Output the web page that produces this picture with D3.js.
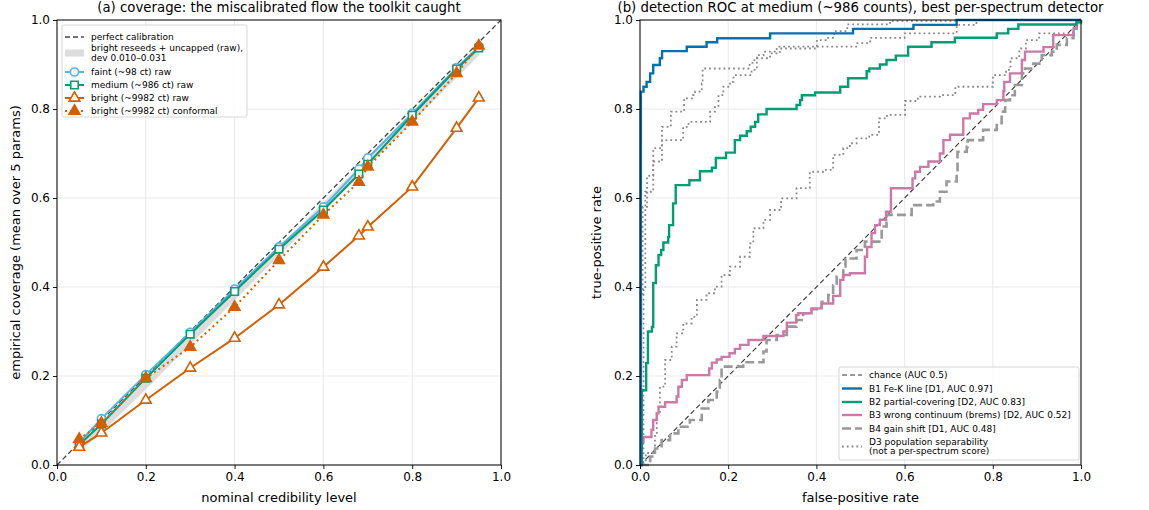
<!DOCTYPE html>
<html><head><meta charset="utf-8">
<script src="https://cdn.jsdelivr.net/npm/d3@7"></script>
<style>body{margin:0;background:#fff} svg{font-family:"DejaVu Sans",sans-serif}</style>
</head><body><svg id="c" width="1149" height="510"></svg>
<script>
// ---------- Panel (a) data ----------
const nominal   = [0.05, 0.10, 0.20, 0.30, 0.40, 0.50, 0.60, 0.68, 0.70, 0.80, 0.90, 0.95];
const faintRaw  = [0.050, 0.104, 0.203, 0.298, 0.395, 0.490, 0.580, 0.665, 0.690, 0.790, 0.893, 0.940];
const mediumRaw = [0.045, 0.092, 0.195, 0.294, 0.390, 0.485, 0.573, 0.654, 0.676, 0.786, 0.890, 0.937];
const brightRaw = [0.040, 0.072, 0.146, 0.218, 0.285, 0.360, 0.445, 0.515, 0.535, 0.625, 0.757, 0.825];
const brightConf= [0.058, 0.094, 0.195, 0.265, 0.355, 0.460, 0.562, 0.636, 0.670, 0.771, 0.880, 0.942];
const bandLo    = [0.030, 0.072, 0.170, 0.270, 0.370, 0.470, 0.569, 0.650, 0.670, 0.770, 0.870, 0.920];
const bandHi    = [0.040, 0.090, 0.190, 0.290, 0.390, 0.490, 0.590, 0.670, 0.690, 0.790, 0.890, 0.940];
const ticksA    = [0, 0.2, 0.4, 0.6, 0.8, 1.0];

// ---------- Panel (b) data (ROC step corners: [fpr, tpr]) ----------
const rocB1 = [[0,0],[0.002,0.839],[0.008,0.85],[0.015,0.861],[0.023,0.88],[0.03,0.899],[0.045,0.914],[0.05,0.93],[0.106,0.94],[0.151,0.95],[0.175,0.959],[0.295,0.97],[0.483,0.98],[0.62,0.989],[0.718,1.0],[1,1]];
const rocB2 = [[0,0],[0.004,0.168],[0.014,0.229],[0.018,0.3],[0.027,0.31],[0.03,0.409],[0.036,0.449],[0.042,0.472],[0.048,0.483],[0.053,0.5],[0.064,0.512],[0.066,0.539],[0.075,0.588],[0.081,0.629],[0.112,0.64],[0.136,0.66],[0.163,0.668],[0.172,0.69],[0.195,0.702],[0.215,0.73],[0.227,0.74],[0.242,0.75],[0.251,0.76],[0.261,0.771],[0.268,0.788],[0.287,0.8],[0.355,0.809],[0.363,0.82],[0.367,0.831],[0.397,0.837],[0.454,0.85],[0.472,0.869],[0.514,0.885],[0.52,0.891],[0.544,0.9],[0.559,0.91],[0.58,0.92],[0.608,0.94],[0.661,0.95],[0.714,0.96],[0.809,0.97],[0.835,0.98],[0.858,0.99],[0.99,0.996],[1,1]];
const rocB3 = [[0,0],[0.004,0.052],[0.008,0.063],[0.026,0.079],[0.03,0.101],[0.038,0.116],[0.042,0.131],[0.057,0.141],[0.083,0.154],[0.087,0.176],[0.095,0.191],[0.106,0.202],[0.157,0.217],[0.163,0.23],[0.174,0.237],[0.185,0.243],[0.203,0.251],[0.215,0.261],[0.227,0.27],[0.246,0.281],[0.28,0.29],[0.325,0.3],[0.333,0.32],[0.354,0.337],[0.359,0.341],[0.389,0.352],[0.412,0.363],[0.438,0.38],[0.454,0.416],[0.461,0.427],[0.476,0.431],[0.51,0.468],[0.515,0.49],[0.525,0.521],[0.533,0.539],[0.544,0.551],[0.558,0.569],[0.569,0.622],[0.618,0.644],[0.624,0.659],[0.635,0.67],[0.654,0.682],[0.68,0.7],[0.688,0.73],[0.703,0.742],[0.733,0.779],[0.748,0.79],[0.767,0.798],[0.778,0.811],[0.809,0.82],[0.824,0.84],[0.826,0.861],[0.839,0.88],[0.866,0.91],[0.873,0.929],[0.915,0.939],[0.937,0.966],[0.983,0.981],[0.99,0.993],[1,1]];
const rocB4 = [[0,0],[0.023,0.019],[0.034,0.037],[0.049,0.056],[0.068,0.071],[0.087,0.086],[0.113,0.101],[0.14,0.127],[0.155,0.146],[0.174,0.165],[0.181,0.191],[0.185,0.221],[0.234,0.231],[0.28,0.255],[0.287,0.281],[0.31,0.292],[0.333,0.311],[0.355,0.326],[0.37,0.341],[0.389,0.35],[0.412,0.367],[0.427,0.382],[0.438,0.404],[0.446,0.423],[0.461,0.446],[0.466,0.464],[0.491,0.483],[0.51,0.502],[0.548,0.536],[0.559,0.562],[0.616,0.584],[0.665,0.592],[0.68,0.614],[0.695,0.637],[0.718,0.659],[0.72,0.704],[0.741,0.715],[0.743,0.73],[0.778,0.753],[0.809,0.768],[0.82,0.794],[0.828,0.82],[0.839,0.831],[0.85,0.854],[0.866,0.88],[0.873,0.891],[0.892,0.902],[0.911,0.921],[0.934,0.929],[0.945,0.944],[0.968,0.959],[0.983,0.981],[0.99,1.0],[1,1]];
const rocD3a = [[0,0],[0.003,0.38],[0.006,0.58],[0.016,0.65],[0.03,0.712],[0.05,0.76],[0.07,0.794],[0.1,0.824],[0.12,0.831],[0.125,0.839],[0.14,0.857],[0.142,0.891],[0.246,0.899],[0.255,0.91],[0.265,0.921],[0.28,0.929],[0.31,0.94],[0.49,0.948],[0.522,0.96],[0.60,0.97],[0.718,0.989],[0.763,1.0],[1,1]];
const rocD3b = [[0,0],[0.008,0.4],[0.012,0.614],[0.03,0.682],[0.05,0.73],[0.098,0.76],[0.11,0.771],[0.159,0.794],[0.17,0.805],[0.178,0.831],[0.189,0.85],[0.204,0.861],[0.212,0.876],[0.253,0.888],[0.265,0.914],[0.295,0.925],[0.317,0.936],[0.401,0.955],[0.423,0.96],[0.44,0.975],[0.47,0.99],[0.567,0.998],[0.72,1.0],[1,1]];
const rocD3c = [[0,0],[0.013,0.027],[0.034,0.072],[0.038,0.116],[0.045,0.176],[0.057,0.236],[0.072,0.266],[0.083,0.296],[0.098,0.318],[0.117,0.333],[0.129,0.371],[0.151,0.386],[0.17,0.401],[0.185,0.427],[0.204,0.446],[0.227,0.468],[0.249,0.498],[0.257,0.532],[0.28,0.551],[0.295,0.573],[0.32,0.599],[0.355,0.622],[0.385,0.659],[0.415,0.663],[0.438,0.697],[0.461,0.712],[0.476,0.723],[0.491,0.734],[0.52,0.742],[0.542,0.779],[0.56,0.787],[0.601,0.818],[0.63,0.828],[0.68,0.831],[0.715,0.85],[0.8,0.876],[0.83,0.888],[0.84,0.914],[0.86,0.936],[0.875,0.955],[0.905,0.97],[0.985,0.993],[1,1]];
const chance = [[0,0],[1,1]];

const svg = d3.select("#c");
const C = {blue:"#0072B2", green:"#009E73", pink:"#CC79A7", gray:"#999999", orange:"#D55E00", sky:"#56B4E9"};

function frame(x0, x1, y0, y1, ticks, title, xlab, ylab, ylabX) {
  const x = d3.scaleLinear().domain([0,1]).range([x0,x1]);
  const y = d3.scaleLinear().domain([0,1]).range([y1,y0]);
  const g = svg.append("g");
  g.append("g").selectAll("line").data(ticks).join("line")
    .attr("x1", d=>x(d)).attr("x2", d=>x(d)).attr("y1", y0).attr("y2", y1)
    .attr("stroke", "#e6e6e6").attr("stroke-width", 0.9);
  g.append("g").selectAll("line").data(ticks).join("line")
    .attr("y1", d=>y(d)).attr("y2", d=>y(d)).attr("x1", x0).attr("x2", x1)
    .attr("stroke", "#e6e6e6").attr("stroke-width", 0.9);
  const plot = svg.append("g");
  const clipId = "clip" + Math.round(x0);
  svg.append("clipPath").attr("id", clipId).append("rect")
    .attr("x", x0-6).attr("y", y0-6).attr("width", x1-x0+12).attr("height", y1-y0+12);
  plot.attr("clip-path", `url(#${clipId})`);
  const top = svg.append("g");
  const fmt = d3.format(".1f");
  const ax = top.append("g").attr("transform", `translate(0,${y1})`)
    .call(d3.axisBottom(x).tickValues(ticks).tickFormat(fmt).tickSize(4).tickPadding(3));
  const ay = top.append("g").attr("transform", `translate(${x0},0)`)
    .call(d3.axisLeft(y).tickValues(ticks).tickFormat(fmt).tickSize(4).tickPadding(3));
  [ax, ay].forEach(a => {
    a.select(".domain").remove();
    a.selectAll("text").attr("font-size", 12).attr("fill", "#000").attr("font-family", "DejaVu Sans");
    a.selectAll("line").attr("stroke", "#000").attr("stroke-width", 0.9);
  });
  top.append("rect").attr("x", x0).attr("y", y0).attr("width", x1-x0).attr("height", y1-y0)
    .attr("fill", "none").attr("stroke", "#000").attr("stroke-width", 1);
  top.append("text").attr("x", (x0+x1)/2).attr("y", 12.4).attr("text-anchor", "middle")
    .attr("font-size", 13.3).text(title);
  top.append("text").attr("x", (x0+x1)/2).attr("y", 502).attr("text-anchor", "middle")
    .attr("font-size", 13).text(xlab);
  top.append("text").attr("transform", `translate(${ylabX},${(y0+y1)/2}) rotate(-90)`)
    .attr("text-anchor", "middle").attr("font-size", 13).text(ylab);
  return {x, y, plot, top};
}

// ---------- Panel (a) ----------
const A = frame(57, 501, 20, 465, ticksA,
  "(a) coverage: the miscalibrated flow the toolkit caught",
  "nominal credibility level", "empirical coverage (mean over 5 params)", 20);

const bandData = nominal.map((n,i)=>({n, lo:bandLo[i], hi:bandHi[i]}));
A.plot.append("path").datum(bandData)
  .attr("d", d3.area().x(d=>A.x(d.n)).y0(d=>A.y(d.lo)).y1(d=>A.y(d.hi)))
  .attr("fill", "#d6d6d6").attr("opacity", 0.85);
A.plot.append("path").datum([[0,0],[1,1]])
  .attr("d", d3.line().x(d=>A.x(d[0])).y(d=>A.y(d[1])))
  .attr("stroke", "#444").attr("stroke-width", 1.3).attr("stroke-dasharray", "5,3").attr("fill", "none");

function series(vals, color, sym, filled, dash) {
  const pts = nominal.map((n,i)=>[n, vals[i]]);
  A.plot.append("path").datum(pts)
    .attr("d", d3.line().x(d=>A.x(d[0])).y(d=>A.y(d[1])))
    .attr("stroke", color).attr("stroke-width", 2).attr("fill", "none")
    .attr("stroke-dasharray", dash || null);
  A.plot.append("g").selectAll("path").data(pts).join("path")
    .attr("transform", d=>`translate(${A.x(d[0])},${A.y(d[1])})`)
    .attr("d", d3.symbol().type(sym.t).size(sym.s))
    .attr("fill", filled ? color : "#fff").attr("stroke", color).attr("stroke-width", 1.6);
}
const SYM = {circle:{t:d3.symbolCircle, s:52}, square:{t:d3.symbolSquare, s:56}, tri:{t:d3.symbolTriangle, s:50}};
series(faintRaw, C.sky, SYM.circle, false);
series(mediumRaw, C.green, SYM.square, false);
series(brightRaw, C.orange, SYM.tri, false);
series(brightConf, C.orange, SYM.tri, true, "2,3.3");

// Legend (a)
{
  const L = A.top.append("g");
  L.append("rect").attr("x", 62).attr("y", 25).attr("width", 185).attr("height", 92).attr("rx", 2)
    .attr("fill", "#fff").attr("fill-opacity", 0.85).attr("stroke", "#cccccc").attr("stroke-width", 0.8);
  const hx0 = 65, hx1 = 84, tx = 91;
  const entries = [
    {y:37, label:["perfect calibration"], kind:"dash"},
    {y:53, label:["bright reseeds + uncapped (raw),","dev 0.010–0.031"], kind:"patch"},
    {y:72, label:["faint (~98 ct) raw"], kind:"line", color:C.sky, sym:SYM.circle, filled:false},
    {y:85, label:["medium (~986 ct) raw"], kind:"line", color:C.green, sym:SYM.square, filled:false},
    {y:98, label:["bright (~9982 ct) raw"], kind:"line", color:C.orange, sym:SYM.tri, filled:false},
    {y:111, label:["bright (~9982 ct) conformal"], kind:"line", color:C.orange, sym:SYM.tri, filled:true, dash:"2,3.3"}
  ];
  entries.forEach(e => {
    if (e.kind === "dash") {
      L.append("line").attr("x1", hx0).attr("x2", hx1).attr("y1", e.y).attr("y2", e.y)
        .attr("stroke", "#444").attr("stroke-width", 1.3).attr("stroke-dasharray", "5,3");
    } else if (e.kind === "patch") {
      L.append("rect").attr("x", hx0).attr("y", e.y-3.5).attr("width", hx1-hx0).attr("height", 7)
        .attr("fill", "#d6d6d6").attr("opacity", 0.85);
    } else {
      L.append("line").attr("x1", hx0).attr("x2", hx1).attr("y1", e.y).attr("y2", e.y)
        .attr("stroke", e.color).attr("stroke-width", 2).attr("stroke-dasharray", e.dash || null);
      L.append("path").attr("transform", `translate(${(hx0+hx1)/2},${e.y})`)
        .attr("d", d3.symbol().type(e.sym.t).size(e.sym.s))
        .attr("fill", e.filled ? e.color : "#fff").attr("stroke", e.color).attr("stroke-width", 1.6);
    }
    const t = L.append("text").attr("x", tx).attr("font-size", 9);
    if (e.label.length === 1) {
      t.attr("y", e.y + 3.2).text(e.label[0]);
    } else {
      t.attr("y", e.y - 5 + 3.2).text(e.label[0]);
      L.append("text").attr("x", tx).attr("y", e.y + 5 + 3.2).attr("font-size", 9).text(e.label[1]);
    }
  });
}

// ---------- Panel (b) ----------
const B = frame(640, 1081, 20, 465, ticksA,
  "(b) detection ROC at medium (~986 counts), best per-spectrum detector",
  "false-positive rate", "true-positive rate", 601);

const stepLine = d3.line().x(d=>B.x(d[0])).y(d=>B.y(d[1])).curve(d3.curveStepAfter);
const lin = d3.line().x(d=>B.x(d[0])).y(d=>B.y(d[1]));
function roc(data, color, width, dash, gen) {
  B.plot.append("path").datum(data).attr("d", (gen||stepLine))
    .attr("stroke", color).attr("stroke-width", width).attr("fill", "none")
    .attr("stroke-dasharray", dash || null);
}
roc(chance, "#333", 1.1, "5,3", lin);
roc(rocD3a, "#888", 1.8, "1.8,3");
roc(rocD3b, "#888", 1.8, "1.8,3");
roc(rocD3c, "#888", 1.8, "1.8,3");
roc(rocB4, C.gray, 2.6, "9,4");
roc(rocB3, C.pink, 2.4);
roc(rocB2, C.green, 2.4);
roc(rocB1, C.blue, 2.4);

// Legend (b)
{
  const L = B.top.append("g");
  L.append("rect").attr("x", 839).attr("y", 367).attr("width", 240).attr("height", 93).attr("rx", 2)
    .attr("fill", "#fff").attr("fill-opacity", 0.85).attr("stroke", "#cccccc").attr("stroke-width", 0.8);
  const hx0 = 842, hx1 = 862, tx = 869;
  const entries = [
    {y:375, label:["chance (AUC 0.5)"], color:"#333", w:1.1, dash:"5,3"},
    {y:388.5, label:["B1 Fe-K line [D1, AUC 0.97]"], color:C.blue, w:2.4},
    {y:402, label:["B2 partial-covering [D2, AUC 0.83]"], color:C.green, w:2.4},
    {y:415, label:["B3 wrong continuum (brems) [D2, AUC 0.52]"], color:C.pink, w:2.4},
    {y:428.5, label:["B4 gain shift [D1, AUC 0.48]"], color:C.gray, w:2.6, dash:"9,4"},
    {y:446.5, label:["D3 population separability","(not a per-spectrum score)"], color:"#888", w:1.8, dash:"1.8,3"}
  ];
  entries.forEach(e => {
    L.append("line").attr("x1", hx0).attr("x2", hx1).attr("y1", e.y).attr("y2", e.y)
      .attr("stroke", e.color).attr("stroke-width", e.w).attr("stroke-dasharray", e.dash || null);
    if (e.label.length === 1) {
      L.append("text").attr("x", tx).attr("y", e.y + 3.2).attr("font-size", 9).text(e.label[0]);
    } else {
      L.append("text").attr("x", tx).attr("y", e.y - 4.5 + 3.2).attr("font-size", 9).text(e.label[0]);
      L.append("text").attr("x", tx).attr("y", e.y + 4.5 + 3.2).attr("font-size", 9).text(e.label[1]);
    }
  });
}
</script>
</body></html>
